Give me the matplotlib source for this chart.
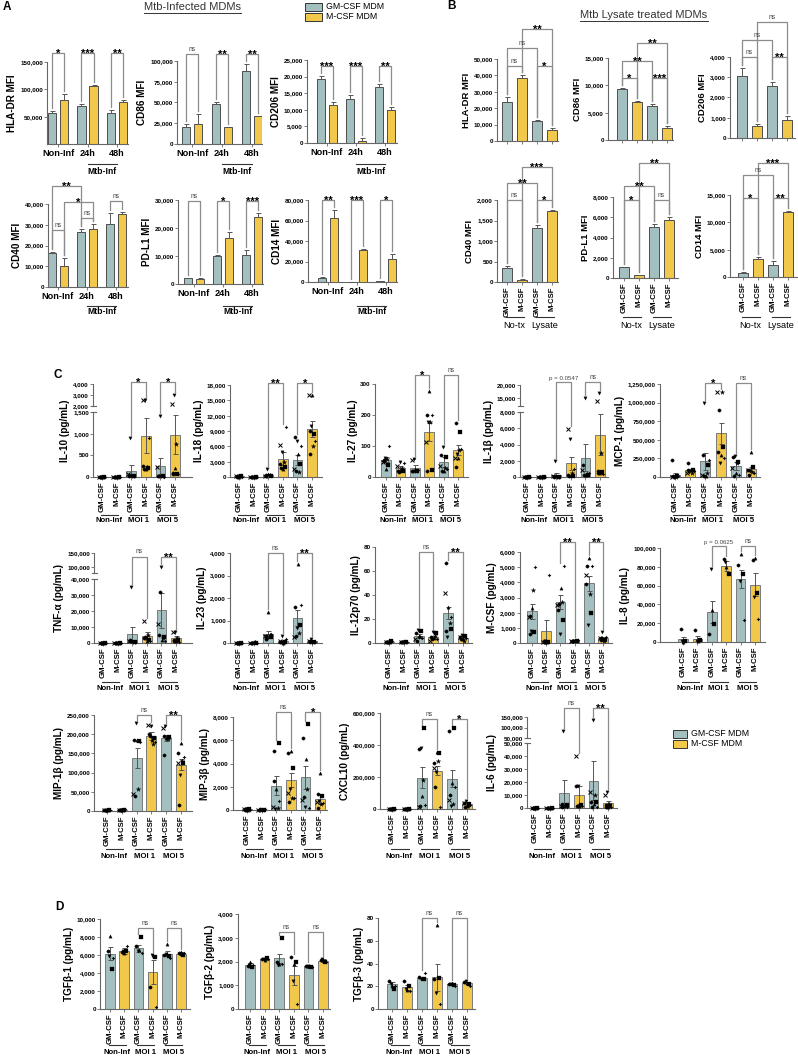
import numpy as np
import matplotlib.pyplot as plt
import matplotlib.transforms as mtrans
from matplotlib.patches import Rectangle

plt.rcParams['font.family'] = ['Liberation Sans', 'DejaVu Sans']

W, H = 798, 1060
GM_COL = '#a3bfbf'
M_COL = '#f2c84b'
BAR_EDGE = '#4d4d4d'
AX_COL = '#666666'
BR_COL = '#8c8c8c'
MARKERS = ['o', 's', '^', 'v', (4, 1, 0), '*', 'x', 'o']
OFFS = [-0.17, 0.16, 0.02, -0.06, 0.22, 0.09, -0.22, -0.12]

# ---------------- A: Mtb-infected MDMs (mean, sem) ----------------
inf_groups = ['Non-Inf', '24h', '48h']
hladr_inf = [56000, 81000, 70000, 106000, 57500, 77000]
hladr_inf_err = [4000, 10000, 4000, 2000, 4500, 3000]
cd86_inf = [20500, 24000, 48000, 20500, 88000, 33500]
cd86_inf_err = [3000, 12000, 2500, 300, 8000, 500]
cd206_inf = [19200, 11500, 13400, 700, 16900, 9800]
cd206_inf_err = [900, 1000, 1000, 800, 1000, 900]
cd40_inf = [16300, 10000, 26300, 28000, 30500, 35300]
cd40_inf_err = [400, 4000, 1500, 2200, 5000, 1000]
pdl1_inf = [2000, 1800, 10000, 16500, 10500, 24000]
pdl1_inf_err = [200, 300, 200, 2000, 1500, 1500]
cd14_inf = [4000, 62000, 300, 31000, 800, 22000]
cd14_inf_err = [500, 8000, 100, 1500, 200, 5000]

# ---------------- B: Mtb lysate treated MDMs ----------------
lys_groups = ['No-tx', 'Lysate']
hladr_lys = [24000, 38500, 12300, 7000]
hladr_lys_err = [3000, 1500, 500, 1200]
cd86_lys = [9300, 6900, 6300, 2200]
cd86_lys_err = [300, 200, 350, 300]
cd206_lys = [3080, 580, 2560, 900]
cd206_lys_err = [380, 120, 230, 200]
cd40_lys = [350, 60, 1310, 1720]
cd40_lys_err = [50, 5, 70, 40]
pdl1_lys = [1100, 250, 5000, 5750]
pdl1_lys_err = [30, 20, 300, 250]
cd14_lys = [750, 3300, 2200, 11900]
cd14_lys_err = [100, 300, 750, 250]

# ---------------- C: cytokines (pg/mL) ----------------
moi_groups = ['Non-Inf', 'MOI 1', 'MOI 5']
il10 = [5, 5, 150, 950, 260, 970]
il10_err = [3, 3, 130, 400, 180, 450]
il10_pts = [[10, 5, 8, 3, 6, 4, 5, 7], [5, 8, 4, 6, 3, 7, 5, 4],
            [40, 30, 50, 900, 20, 30, 60, 25], [250, 200, 180, 2500, 900, 220, 2500, 180],
            [30, 20, 40, 1400, 10, 30, 220, 25], [80, 70, 200, 3000, 80, 750, 2200, 90]]
il18 = [100, 50, 450, 3600, 3300, 9400]
il18_err = [30, 20, 150, 1200, 1000, 1600]
il18_pts = [[100, 120, 80, 90, 60, 150, 110, 70], [50, 40, 60, 30, 70, 45, 55, 35],
            [300, 200, 500, 1500, 400, 300, 250, 200], [2500, 2000, 1500, 4900, 9800, 3000, 6300, 1800],
            [7800, 2500, 4500, 7000, 6000, 1000, 1500, 1200], [9000, 8500, 16000, 10000, 7000, 6000, 16000, 4500]]
il27 = [55, 30, 30, 145, 48, 87]
il27_err = [8, 7, 8, 30, 15, 15]
il27_pts = [[55, 40, 25, 60, 100, 58, 50, 52], [20, 18, 25, 50, 45, 30, 35, 15],
            [20, 18, 25, 58, 22, 20, 55, 20], [200, 23, 277, 177, 200, 177, 113, 20],
            [70, 65, 20, 97, 25, 30, 35, 20], [174, 145, 60, 75, 90, 87, 61, 32]]
il1b = [20, 20, 300, 1700, 2400, 5200]
il1b_err = [10, 10, 200, 800, 1700, 2500]
il1b_pts = [[20, 30, 10, 15, 25, 20, 10, 30], [20, 15, 10, 25, 30, 20, 15, 10],
            [100, 50, 80, 2000, 60, 40, 100, 50], [300, 100, 200, 4700, 1000, 500, 5900, 100],
            [1500, 300, 200, 15000, 500, 400, 900, 200], [800, 600, 500, 17000, 400, 3000, 14000, 500]]
mcp1 = [30000, 90000, 210000, 590000, 145000, 110000]
mcp1_err = [25000, 15000, 110000, 140000, 50000, 30000]
mcp1_pts = [[228000, 10000, 8000, 5000, 12000, 3000, 5000, 10000],
            [188000, 100000, 90000, 70000, 80000, 60000, 50000, 90000],
            [296000, 161000, 20000, 995000, 228000, 50000, 30000, 20000],
            [336000, 403000, 296000, 188000, 255000, 1140000, 1140000, 900000],
            [270000, 200000, 54000, 282000, 30000, 190000, 121000, 10000],
            [94000, 134000, 336000, 80000, 60000, 70000, 90000, 27000]]
tnfa = [100, 100, 5500, 4300, 20500, 3000]
tnfa_err = [50, 50, 4300, 2500, 11000, 1500]
tnfa_pts = [[100, 80, 120, 90, 110, 70, 100, 60], [100, 90, 80, 120, 70, 110, 100, 90],
            [1000, 800, 1500, 35000, 500, 600, 1000, 2000], [3000, 2000, 1500, 3000, 1000, 5000, 14000, 4000],
            [5000, 4000, 2000, 100000, 1000, 3000, 12000, 32000], [1000, 2000, 1500, 7000, 500, 3000, 7000, 2000]]
il23 = [10, 20, 400, 100, 1100, 80]
il23_err = [5, 5, 120, 40, 350, 25]
il23_pts = [[10, 5, 15, 8, 12, 6, 10, 9], [20, 15, 25, 18, 22, 30, 15, 20],
            [300, 250, 1400, 200, 400, 350, 300, 200], [50, 30, 20, 300, 200, 60, 80, 40],
            [1600, 800, 3500, 670, 1700, 440, 270, 300], [100, 50, 80, 200, 60, 50, 70, 40]]
il12 = [1, 1, 6, 5, 25, 4]
il12_err = [0.3, 0.3, 1.5, 1, 5, 1]
il12_pts = [[1, 1.5, 0.5, 1, 2, 0.5, 1, 1], [1, 0.5, 1.5, 1, 1, 0.8, 1.2, 1],
            [8, 10, 6, 11, 4, 5, 3, 2], [5, 8, 4, 9, 3, 6, 2, 3],
            [67, 12, 30, 5, 22, 17, 42, 10], [5, 6, 3, 7, 4, 2, 5, 3]]
mcsf = [2100, 800, 2700, 150, 3950, 300]
mcsf_err = [500, 700, 450, 50, 500, 100]
mcsf_pts = [[1800, 700, 2300, 800, 5000, 3500, 1700, 600], [100, 80, 50, 120, 4500, 60, 70, 90],
            [2200, 1500, 3600, 600, 5100, 2700, 2500, 2600], [150, 100, 200, 120, 180, 160, 140, 130],
            [3900, 2000, 5600, 1200, 5100, 3200, 4500, 5100], [300, 200, 250, 700, 400, 150, 350, 200]]
il8 = [3000, 3500, 32000, 81000, 67000, 61000]
il8_err = [2000, 2500, 12000, 5000, 10000, 12000]
il8_pts = [[14000, 1000, 500, 800], [13000, 2000, 1000, 1500],
           [8400, 19000, 34000, 78000], [88000, 72000, 80000, 85000],
           [82000, 72000, 94000, 65000, 23000], [87000, 52000, 89000, 48000, 24000]]
mip1b = [2000, 3000, 138000, 196000, 190000, 121000]
mip1b_err = [500, 500, 27000, 10000, 8000, 15000]
mip1b_pts = [[2000, 1500, 2500, 1000, 3000, 2000, 1800, 2200], [3000, 2500, 3500, 2000, 4000, 3000, 2800, 3200],
             [185000, 183000, 186000, 228000, 180000, 58000, 45000, 40000],
             [200000, 190000, 185000, 222000, 180000, 175000, 225000, 195000],
             [195000, 193000, 190000, 222000, 192000, 188000, 215000, 145000],
             [150000, 125000, 178000, 95000, 140000, 130000, 125000, 15000]]
mip3b = [50, 40, 2100, 2600, 2800, 950]
mip3b_err = [20, 15, 800, 600, 1000, 400]
mip3b_pts = [[100, 50, 30, 80, 20, 40, 60, 30], [40, 30, 60, 20, 50, 40, 30, 50],
             [5100, 5800, 1800, 100, 800, 200, 300, 2500], [4900, 3600, 5100, 1800, 1000, 1000, 1500, 700],
             [6200, 7400, 4400, 300, 200, 1800, 900, 1100], [1400, 1200, 3200, 800, 600, 500, 700, 200]]
cxcl10 = [1000, 2000, 195000, 240000, 190000, 30000]
cxcl10_err = [500, 800, 65000, 30000, 55000, 10000]
cxcl10_pts = [[2000, 1000, 500, 1500, 800, 1200, 900, 600], [3000, 2000, 1500, 2500, 1800, 2200, 1600, 2400],
              [375000, 506000, 80000, 380000, 25000, 180000, 10000, 20000],
              [288000, 350000, 355000, 230000, 10000, 300000, 255000, 140000],
              [490000, 506000, 160000, 20000, 140000, 30000, 56000, 90000],
              [40000, 30000, 20000, 50000, 25000, 20000, 35000, 15000]]
il6 = [200, 200, 11700, 10000, 21000, 3700]
il6_err = [100, 100, 10000, 7000, 15000, 2000]
il6_pts = [[200, 300, 100, 250, 150, 200, 300, 100], [200, 150, 300, 250, 100, 200, 250, 150],
           [3000, 2000, 1500, 83000, 1000, 2500, 1500, 1000], [17000, 2000, 1500, 17000, 1800, 2500, 40000, 1200],
           [5000, 4500, 3000, 135000, 1000, 10000, 12000, 500], [2000, 1500, 1000, 12000, 800, 3000, 10000, 1000]]

# ---------------- D: TGF-beta ----------------
tgfb1 = [6150, 6450, 6750, 4100, 6150, 6150]
tgfb1_err = [700, 300, 400, 1300, 250, 150]
tgfb1_pts = [[6400, 4500, 8100, 5900, 5700], [6300, 6400, 6200, 6500, 7000], [7000, 8000, 6600, 6500, 6200],
             [2500, 5800, 6000, 6000, 200], [6000, 5900, 7200, 6100, 5700], [6200, 6000, 6300, 6100, 6200]]
tgfb2 = [1850, 2100, 2130, 1430, 1790, 2040]
tgfb2_err = [100, 50, 200, 400, 50, 50]
tgfb2_pts = [[1800, 1750, 2000, 1850, 1850], [2100, 2150, 2050, 2100, 2100], [2000, 3000, 1900, 1850, 1900],
             [2200, 2000, 1900, 1200, 200], [1800, 1750, 1800, 1800, 1750], [2050, 2000, 2050, 2100, 2000]]
tgfb3 = [22, 19, 27, 28, 22, 23]
tgfb3_err = [2, 2, 1, 12, 1, 1]
tgfb3_pts = [[25, 18, 20, 22, 20], [25, 20, 17, 18, 16], [28, 26, 27, 26, 32],
             [26, 27, 74, 14, 4], [22, 21, 23, 22, 20], [24, 22, 23, 25, 20]]

POS_A = [0, 1, 2.45, 3.45, 4.9, 5.9]
POS_B = [0, 1, 2, 3]
POS_C = [0, 1, 2, 3, 4, 5]

fig = plt.figure(figsize=(W / 100, H / 100), dpi=100)


def add_ax(left, top, right, bottom):
    return fig.add_axes([left / W, 1 - bottom / H, (right - left) / W, (bottom - top) / H])


def broken(knots, pos):
    k = np.array(knots, float)
    p = np.array(pos, float)
    slope = (p[-1] - p[-2]) / (k[-1] - k[-2])
    k = np.append(k, k[-1] * 50)
    p = np.append(p, p[-1] + slope * (k[-1] - k[-2]))
    return (lambda y: np.interp(y, k, p)), (lambda q: np.interp(q, p, k))


def frac(ax, y):
    return ax.transAxes.inverted().transform(ax.transData.transform((ax.get_xlim()[0], y)))[1]


def panel(rect, bar_px, pos, means, errs, top, ticks, ylabel, ysize=7.2, pts=None,
          both=False, brackets=(), brk=None, xmode='rot', groups=None, edge=BAR_EDGE):
    left, ytop, right, bottom = rect
    ax = add_ax(*rect)
    pos = np.asarray(pos, float)
    means = np.asarray(means, float)
    errs = np.asarray(errs, float)
    step = (bar_px[1] - bar_px[0]) / (pos[-1] - pos[0])
    ax.set_xlim(pos[0] + (left - bar_px[0]) / step, pos[0] + (right - bar_px[0]) / step)
    if brk is not None:
        f, g = broken(*brk)
        ax.set_yscale('function', functions=(f, g))
    ax.set_ylim(0, top)
    cols = [GM_COL, M_COL] * (len(pos) // 2)
    ax.bar(pos, means, width=0.67, color=cols, edgecolor=edge, linewidth=0.7, zorder=2)
    low = errs if both else np.zeros_like(errs)
    ax.errorbar(pos, means, yerr=[low, errs], fmt='none', ecolor='#555555',
                elinewidth=0.7, capsize=1.8, capthick=0.7, zorder=4)
    highs = means + errs
    if pts is not None:
        highs = np.maximum(highs, [max(v) for v in pts])
        for x, vals in zip(pos, pts):
            for j, v in enumerate(vals):
                mk = MARKERS[j]
                ax.plot(x + OFFS[j], v, marker=mk, ms=3.4 if mk == '*' else 2.4,
                        color='black', mec='black', mew=0.7 if mk == 'x' else 0.2,
                        ls='none', zorder=5, clip_on=False)

    for s in ['top', 'right']:
        ax.spines[s].set_visible(False)
    for s in ['left', 'bottom']:
        ax.spines[s].set_color(AX_COL)
        ax.spines[s].set_linewidth(0.8)
    if brk is not None:
        ax.spines['left'].set_visible(False)
        lo, hi = frac(ax, brk[0][1]), frac(ax, brk[0][2])
        tw = 2.5 / (right - left)
        for a, b in [(0, lo), (hi, 1)]:
            ax.plot([0, 0], [a, b], transform=ax.transAxes, color=AX_COL, lw=0.8, clip_on=False)
        for yb in (lo, hi):
            ax.plot([-tw, tw], [yb, yb], transform=ax.transAxes, color=AX_COL, lw=0.8, clip_on=False)

    ax.set_yticks(ticks)
    ax.set_yticklabels([f'{t:,.0f}' for t in ticks], fontsize=4.5, fontweight='bold')
    ax.tick_params(axis='y', length=2, width=0.6, color=AX_COL, pad=1)
    ax.set_ylabel(ylabel, fontsize=ysize, fontweight='bold', labelpad=2)

    if xmode == 'A':
        ax.set_xticks((pos[0::2] + pos[1::2]) / 2)
        ax.set_xticklabels(groups, fontsize=6.6, fontweight='bold')
    else:
        ax.set_xticks(pos)
        if xmode == 'rot':
            ax.set_xticklabels(['GM-CSF', 'M-CSF'] * (len(pos) // 2), rotation=90,
                               fontsize=5.6, fontweight='bold')
        else:
            ax.set_xticklabels([])
    ax.tick_params(axis='x', length=2, width=0.6, color=AX_COL, pad=1.5)

    blend = mtrans.blended_transform_factory(ax.transData, ax.transAxes)
    pad = 3.0 / (bottom - ytop)
    for i, j, txt, lvl in brackets:
        yi = min(frac(ax, highs[i]) + pad, lvl - pad)
        yj = min(frac(ax, highs[j]) + pad, lvl - pad)
        ax.plot([pos[i], pos[i], pos[j], pos[j]], [yi, lvl, lvl, yj], transform=blend,
                color=BR_COL, lw=0.9, clip_on=False, zorder=1)
        xc = (pos[i] + pos[j]) / 2
        if txt.startswith('*'):
            ax.annotate(txt, (xc, lvl), xycoords=blend, xytext=(0, -2.8), textcoords='offset points',
                        ha='center', va='baseline', fontsize=8, fontweight='bold')
        else:
            ax.annotate(txt, (xc, lvl), xycoords=blend, xytext=(0, 0.8), textcoords='offset points',
                        ha='center', va='bottom', fontsize=4.8 if txt == 'ns' else 4.4, color='#444444')
    return ax, pos


def group_marks(ax, spans, names, y_line, y_text, size=5.6, weight='bold'):
    tr = mtrans.blended_transform_factory(ax.transData, fig.transFigure)
    for (a, b), name in zip(spans, names):
        if y_line is not None:
            ax.plot([a, b], [1 - y_line / H] * 2, transform=tr, color='#333333', lw=0.8, clip_on=False)
        ax.text((a + b) / 2, 1 - y_text / H, name, transform=tr, ha='center', va='center',
                fontsize=size, fontweight=weight)


def pair_spans(pos):
    return [(pos[k] - 0.1, pos[k + 1] + 0.1) for k in range(0, len(pos), 2)]


# ---------------- panel A ----------------
def a_panel(rect, bar_px, m, e, top, ticks, label, brs, y_line, y_text):
    ax, pos = panel(rect, bar_px, POS_A, m, e, top, ticks, label, xmode='A', groups=inf_groups,
                    brackets=brs)
    c = (pos[0::2] + pos[1::2]) / 2
    group_marks(ax, [(c[1], c[2])], ['Mtb-Inf'], y_line, y_text, size=6.2)


std3 = lambda t1, t2, t3, lv: [(0, 1, t1, lv), (2, 3, t2, lv), (4, 5, t3, lv)]
a_panel((47, 62, 128, 144), (52, 123), hladr_inf, hladr_inf_err, 150000, [50000, 100000, 150000],
        'HLA-DR MFI', std3('*', '***', '**', 1.11), 164, 172)
a_panel((177, 61, 262, 144), (186, 258), cd86_inf, cd86_inf_err, 100000, [0, 25000, 50000, 75000, 100000],
        'CD86 MFI', std3('ns', '**', '**', 1.08), 164, 172)
a_panel((307, 60, 397, 143), (321, 391), cd206_inf, cd206_inf_err, 25000, list(range(0, 25001, 5000)),
        'CD206 MFI', std3('***', '***', '**', 0.93), 164, 172)
a_panel((48, 204, 128, 287), (52, 122), cd40_inf, cd40_inf_err, 40000, list(range(0, 40001, 10000)),
        'CD40 MFI', [(0, 1, 'ns', 0.69), (2, 3, 'ns', 0.83), (4, 5, 'ns', 1.04),
                     (1, 3, '*', 1.02), (0, 2, '**', 1.22)], 306, 312)
a_panel((178, 200, 263, 284), (188, 258), pdl1_inf, pdl1_inf_err, 30000, [0, 10000, 20000, 30000],
        'PD-L1 MFI', std3('ns', '*', '***', 0.99), 306, 312)
a_panel((308, 200, 397, 282), (322, 392), cd14_inf, cd14_inf_err, 80000, list(range(0, 80001, 20000)),
        'CD14 MFI', std3('**', '***', '*', 1.0), 306, 312)


# ---------------- panel B ----------------
def b_panel(rect, bar_px, m, e, top, ticks, label, t, lv, xmode):
    brs = [(0, 1, t[0], lv[0]), (2, 3, t[1], lv[0]), (0, 2, t[2], lv[1]), (1, 3, t[3], lv[2])]
    ax, pos = panel(rect, bar_px, POS_B, m, e, top, ticks, label, ysize=6.8, xmode=xmode, brackets=brs)
    if xmode == 'rot':
        group_marks(ax, pair_spans(pos), lys_groups, 317, 325, size=6.6, weight='normal')


b_panel((497, 59, 558, 141), (507, 552), hladr_lys, hladr_lys_err, 50000, list(range(0, 50001, 10000)),
        'HLA-DR MFI', ['ns', '*', 'ns', '**'], [0.91, 1.13, 1.37], 'none')
b_panel((608, 58, 673, 140), (622, 667), cd86_lys, cd86_lys_err, 15000, [0, 5000, 10000, 15000],
        'CD86 MFI', ['*', '***', '**', '**'], [0.76, 0.96, 1.18], 'none')
b_panel((730, 57, 795, 138), (742, 787), cd206_lys, cd206_lys_err, 4000, list(range(0, 4001, 1000)),
        'CD206 MFI', ['ns', '**', 'ns', 'ns'], [1.0, 1.21, 1.43], 'none')
b_panel((497, 200, 558, 282), (507, 552), cd40_lys, cd40_lys_err, 2000, list(range(0, 2001, 500)),
        'CD40 MFI', ['ns', '*', '**', '***'], [1.0, 1.21, 1.40], 'rot')
b_panel((613, 197, 678, 278), (624, 669), pdl1_lys, pdl1_lys_err, 8000, list(range(0, 8001, 2000)),
        'PD-L1 MFI', ['*', 'ns', '**', '**'], [0.96, 1.14, 1.42], 'rot')
b_panel((730, 195, 797, 277), (743, 788), cd14_lys, cd14_lys_err, 15000, [0, 5000, 10000, 15000],
        'CD14 MFI', ['*', '**', 'ns', '***'], [0.96, 1.24, 1.39], 'rot')


# ---------------- panel C / D ----------------
def c_panel(rect, bar_px, m, e, p, top, ticks, label, t1, t2, lv, y_line, y_text, brk=None):
    ax, pos = panel(rect, bar_px, POS_C, m, e, top, ticks, label, pts=p, both=True,
                    brackets=[(2, 3, t1, lv), (4, 5, t2, lv)], brk=brk, edge='#7a7a7a')
    group_marks(ax, pair_spans(pos), moi_groups, y_line, y_text)


c_panel((93, 384, 192, 477), (102, 175), il10, il10_err, il10_pts, 4000,
        [0, 500, 1000, 1500, 2000, 3000, 4000], 'IL-10 (pg/mL)', '*', '*', 1.02, 515, 521,
        brk=([0, 1500, 2000, 4000], [0, 65, 71, 93]))
c_panel((230, 385, 322, 477), (239, 312), il18, il18_err, il18_pts, 18000,
        list(range(0, 18001, 3000)), 'IL-18 (pg/mL)', '**', '*', 1.02, 515, 521)
c_panel((375, 384, 468, 477), (386, 458), il27, il27_err, il27_pts, 300,
        [0, 100, 200, 300], 'IL-27 (pg/mL)', '*', 'ns', 1.10, 515, 521)
c_panel((520, 385, 608, 477), (527, 600), il1b, il1b_err, il1b_pts, 20000,
        [0, 2000, 4000, 6000, 8000, 15000, 20000], 'IL-1β (pg/mL)', 'p = 0.0547', 'ns', 1.03, 515, 521,
        brk=([0, 8000, 12000, 20000], [0, 65, 71, 92]))
c_panel((660, 384, 760, 477), (675, 751), mcp1, mcp1_err, mcp1_pts, 1250000,
        list(range(0, 1250001, 250000)), 'MCP-1 (pg/mL)', '*', 'ns', 1.01, 515, 521)

c_panel((94, 553, 192, 643), (103, 176), tnfa, tnfa_err, tnfa_pts, 150000,
        [0, 10000, 20000, 30000, 40000, 100000, 150000], 'TNF-α (pg/mL)', 'ns', '**', 0.96, 682, 688,
        brk=([0, 40000, 78000, 150000], [0, 64, 70, 90]))
c_panel((230, 553, 322, 643), (239, 312), il23, il23_err, il23_pts, 4000,
        list(range(0, 4001, 1000)), 'IL-23 (pg/mL)', 'ns', '**', 1.0, 682, 688)
c_panel((375, 547, 472, 643), (389, 463), il12, il12_err, il12_pts, 80,
        [0, 20, 40, 60, 80], 'IL-12p70 (pg/mL)', 'ns', '**', 0.95, 682, 688)
c_panel((520, 552, 612, 643), (532, 603), mcsf, mcsf_err, mcsf_pts, 6000,
        list(range(0, 6001, 1000)), 'M-CSF (pg/mL)', '**', '**', 1.11, 682, 688)
c_panel((660, 548, 765, 642), (683, 755), il8, il8_err, il8_pts, 100000,
        list(range(0, 100001, 20000)), 'IL-8 (pg/mL)', 'p = 0.0625', 'ns', 1.02, 682, 688)

c_panel((94, 715, 192, 811), (107, 181), mip1b, mip1b_err, mip1b_pts, 250000,
        list(range(0, 250001, 50000)), 'MIP-1β (pg/mL)', 'ns', '**', 1.0, 849, 857)
c_panel((233, 717, 327, 810), (247, 320), mip3b, mip3b_err, mip3b_pts, 8000,
        list(range(0, 8001, 2000)), 'MIP-3β (pg/mL)', 'ns', '*', 1.05, 849, 857)
c_panel((380, 713, 475, 809), (392, 467), cxcl10, cxcl10_err, cxcl10_pts, 600000,
        [0, 200000, 400000, 600000], 'CXCL10 (pg/mL)', 'ns', '*', 0.94, 849, 857)
c_panel((527, 717, 617, 808), (535, 608), il6, il6_err, il6_pts, 150000,
        [0, 10000, 20000, 30000, 40000, 50000, 50000.001, 100000, 150000], 'IL-6 (pg/mL)', 'ns', '**',
        1.10, 849, 857, brk=([0, 50000, 50000.001, 150000], [0, 65, 70, 91]))

c_panel((100, 919, 190, 1009), (110, 181), tgfb1, tgfb1_err, tgfb1_pts, 10000,
        list(range(0, 10001, 2000)), 'TGFβ-1 (pg/mL)', 'ns', 'ns', 0.90, 1045, 1052)
c_panel((238, 914, 330, 1009), (250, 323), tgfb2, tgfb2_err, tgfb2_pts, 4000,
        list(range(0, 4001, 1000)), 'TGFβ-2 (pg/mL)', 'ns', 'ns', 0.81, 1045, 1052)
c_panel((378, 918, 475, 1009), (392, 467), tgfb3, tgfb3_err, tgfb3_pts, 80,
        [0, 20, 40, 60, 80], 'TGFβ-3 (pg/mL)', 'ns', 'ns', 1.0, 1045, 1052)


# ---------------- titles, letters, legends ----------------
def fx(x):
    return x / W


def fy(y):
    return 1 - y / H


for letter, x, y in [('A', 3, 7), ('B', 447, 6), ('C', 53, 375), ('D', 55, 907)]:
    fig.text(fx(x), fy(y), letter, fontsize=8.5, fontweight='bold', va='center', ha='left')

renderer = fig.canvas.get_renderer()
for title, cx, cy in [('Mtb-Infected MDMs', 192, 7), ('Mtb Lysate treated MDMs', 644, 15)]:
    t = fig.text(fx(cx), fy(cy), title, fontsize=8, color='#333333', ha='center', va='center')
    bb = t.get_window_extent(renderer)
    fig.add_artist(plt.Line2D([bb.x0 / W, bb.x1 / W], [fy(cy + 5.5)] * 2, color='#333333', lw=0.7))


def legend_at(x, y, pw, ph, gap, size):
    for k, (col, name) in enumerate([(GM_COL, 'GM-CSF MDM'), (M_COL, 'M-CSF MDM')]):
        yy = y + k * gap
        fig.add_artist(Rectangle((fx(x), fy(yy + ph)), pw / W, ph / H, facecolor=col,
                                 edgecolor='#333333', lw=0.7))
        fig.text(fx(x + pw + 4), fy(yy + ph / 2), name, fontsize=size, va='center', ha='left')


legend_at(305, 3, 17, 7.5, 10, 6.3)
legend_at(673, 730, 14, 8, 10, 6.3)

fig.savefig('out.png', dpi=100)
